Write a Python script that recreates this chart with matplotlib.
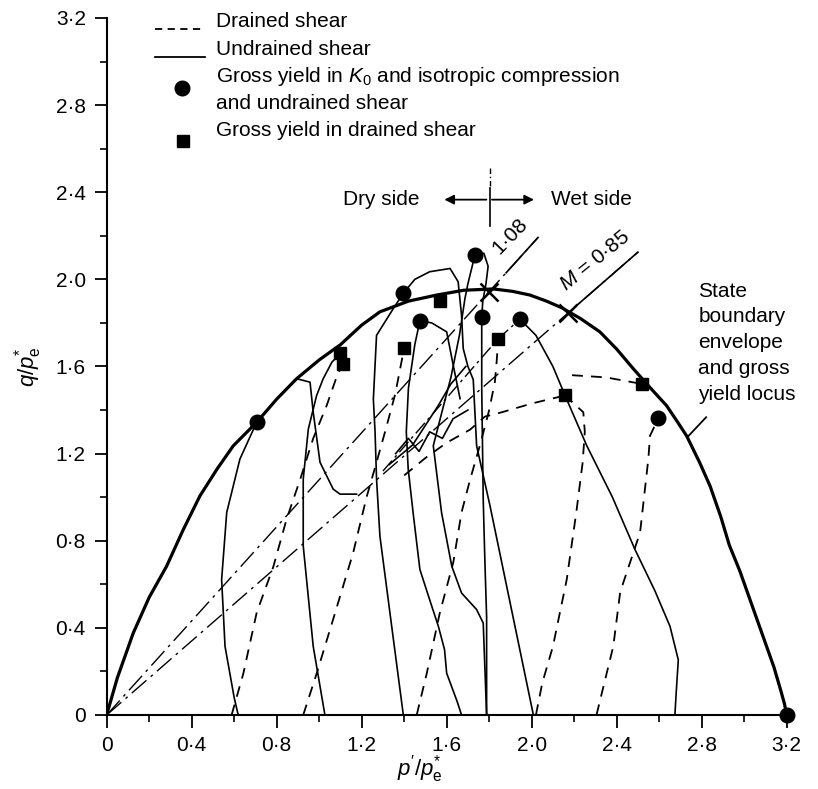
import matplotlib
matplotlib.use("Agg")
import matplotlib.pyplot as plt

plt.rcParams['font.family'] = ['Liberation Sans', 'DejaVu Sans']
plt.rcParams['mathtext.fontset'] = 'custom'
plt.rcParams['mathtext.rm'] = 'Liberation Sans'
plt.rcParams['mathtext.it'] = 'Liberation Sans:italic'

# state boundary envelope / gross yield locus (p'/pe*, q/pe*)
env_p = [0, 0.05, 0.125, 0.2, 0.282, 0.36, 0.439, 0.52, 0.596, 0.706, 0.80, 0.894,
         1.0, 1.10, 1.2, 1.286, 1.42, 1.553, 1.68, 1.82, 1.91, 1.992, 2.07, 2.141,
         2.23, 2.321, 2.40, 2.478, 2.56, 2.635, 2.69, 2.73, 2.79, 2.84, 2.89, 2.93,
         2.98, 3.02, 3.06, 3.10, 3.14, 3.17, 3.19, 3.2]
env_q = [0, 0.17, 0.376, 0.54, 0.683, 0.85, 1.006, 1.13, 1.236, 1.344, 1.45, 1.544,
         1.63, 1.70, 1.79, 1.851, 1.90, 1.928, 1.95, 1.956, 1.945, 1.928, 1.90, 1.87,
         1.82, 1.759, 1.68, 1.59, 1.50, 1.42, 1.34, 1.28, 1.16, 1.05, 0.91, 0.78,
         0.66, 0.55, 0.44, 0.33, 0.22, 0.12, 0.05, 0]

# undrained stress paths
undrained = [
    ([0.706, 0.627, 0.565, 0.541, 0.557, 0.60, 0.619],
     [1.344, 1.175, 0.93, 0.622, 0.315, 0.08, 0]),
    ([1.027, 0.972, 0.925, 0.925, 0.949, 0.988, 1.019, 1.06, 1.10],
     [0, 0.315, 0.776, 1.083, 1.313, 1.467, 1.544, 1.62, 1.66]),
    ([0.894, 0.957, 0.972, 1.004, 1.066, 1.098, 1.176],
     [1.544, 1.528, 1.39, 1.16, 1.037, 1.014, 1.014]),
    ([1.396, 1.349, 1.27, 1.255, 1.263, 1.27, 1.286, 1.333, 1.396],
     [1.936, 1.866, 1.743, 1.45, 1.30, 1.083, 0.82, 0.469, 0]),
    ([1.396, 1.45, 1.52, 1.616, 1.654, 1.67, 1.678, 1.70, 1.725, 1.741, 1.804, 2.008],
     [1.936, 2.0, 2.035, 2.05, 1.989, 1.835, 1.682, 1.60, 1.54, 1.236, 0.96, 0]),
    ([1.474, 1.45, 1.42, 1.41, 1.419, 1.442, 1.474, 1.53, 1.561, 1.59, 1.60, 1.65, 1.67],
     [1.81, 1.70, 1.50, 1.30, 1.129, 0.929, 0.668, 0.499, 0.407, 0.30, 0.192, 0.06, 0]),
    ([1.733, 1.70, 1.686, 1.66, 1.62, 1.58, 1.537, 1.576, 1.624, 1.67, 1.741, 1.772, 1.788],
     [2.112, 1.98, 1.912, 1.743, 1.55, 1.40, 1.236, 0.929, 0.683, 0.56, 0.484, 0.422, 0]),
    ([1.733, 1.775, 1.795, 1.785, 1.77, 1.765, 1.765, 1.772, 1.78, 1.788, 1.788],
     [2.112, 2.12, 2.06, 1.98, 1.90, 1.828, 1.5, 0.99, 0.7, 0.45, 0]),
    ([1.474, 1.53, 1.60, 1.631, 1.663],
     [1.81, 1.80, 1.759, 1.605, 1.452]),
    ([1.33, 1.44, 1.50, 1.56, 1.62, 1.69],
     [1.15, 1.24, 1.33, 1.42, 1.52, 1.60]),
    ([1.36, 1.42, 1.47, 1.52, 1.58, 1.63, 1.70],
     [1.20, 1.27, 1.21, 1.30, 1.27, 1.36, 1.40]),
    ([1.945, 2.02, 2.10, 2.157, 2.259, 2.38, 2.486, 2.58, 2.651, 2.69, 2.68, 2.674],
     [1.817, 1.743, 1.60, 1.467, 1.237, 1.0, 0.76, 0.57, 0.407, 0.253, 0.1, 0]),
]

# drained stress paths
drained = [
    ([0.588, 0.643, 0.706, 0.784, 0.847, 0.91, 0.972, 1.035, 1.085, 1.11],
     [0, 0.19, 0.47, 0.68, 0.90, 1.08, 1.27, 1.42, 1.56, 1.61]),
    ([0.925, 0.988, 1.066, 1.16, 1.223, 1.27, 1.31, 1.357, 1.372, 1.40],
     [0, 0.19, 0.44, 0.745, 1.0, 1.16, 1.30, 1.47, 1.544, 1.685]),
    ([1.459, 1.506, 1.568, 1.631, 1.67, 1.71, 1.76, 1.80, 1.827, 1.835, 1.843],
     [0, 0.19, 0.47, 0.70, 0.93, 1.08, 1.25, 1.40, 1.53, 1.62, 1.728]),
    ([2.02, 2.05, 2.10, 2.165, 2.21, 2.24, 2.25, 2.243, 2.157],
     [0.0, 0.147, 0.315, 0.622, 0.93, 1.16, 1.30, 1.39, 1.467]),
    ([1.40, 1.50, 1.60, 1.71, 1.78, 1.86, 2.0, 2.157],
     [1.10, 1.18, 1.25, 1.31, 1.37, 1.39, 1.43, 1.467]),
    ([2.19, 2.35, 2.518], [1.56, 1.55, 1.52]),
    ([2.305, 2.384, 2.416, 2.431, 2.51, 2.549, 2.557, 2.596],
     [0, 0.315, 0.56, 0.607, 0.837, 1.175, 1.282, 1.363]),
]

# gross yield points
circ_p = [0.706, 1.396, 1.474, 1.733, 1.765, 1.945, 2.596, 3.2]
circ_q = [1.344, 1.936, 1.81, 2.112, 1.828, 1.817, 1.363, 0]
sq_p = [1.10, 1.11, 1.40, 1.568, 1.843, 2.157, 2.518]
sq_q = [1.66, 1.61, 1.685, 1.90, 1.728, 1.467, 1.52]

# lines q = M p' through the origin
slopes = [1.08, 0.85]
line_end = [2.03, 2.50]
solid_from = [1.88, 2.21]
cross_p = [1.80, 2.17]

xticks = [0, 0.4, 0.8, 1.2, 1.6, 2.0, 2.4, 2.8, 3.2]
yticks = [0, 0.4, 0.8, 1.2, 1.6, 2.0, 2.4, 2.8, 3.2]


def dotted(v):
    if v == 0:
        return "0"
    return f"{v:.1f}".replace(".", "\u00b7")


fig = plt.figure(figsize=(8.18, 7.89), dpi=100)
ax = fig.add_axes([0.1304, 0.0938, 0.8313, 0.8834])

ax.plot(env_p, env_q, color='black', lw=2.3, solid_capstyle='round',
        solid_joinstyle='round')

for p, q in undrained:
    ax.plot(p, q, color='black', lw=1.2)
for p, q in drained:
    ax.plot(p, q, color='black', lw=1.3, linestyle=(0, (6, 4.5)))

for m, pe, ps, pc in zip(slopes, line_end, solid_from, cross_p):
    ax.plot([0, pe], [0, m * pe], color='black', lw=1.0,
            linestyle=(0, (14, 4, 2, 4)))
    ax.plot([ps, pe], [m * ps, m * pe], color='black', lw=1.2)
    ax.plot(pc, m * pc, marker='x', color='black', ms=13, mew=1.8)

# dash-dot path through the wet-side cluster
ax.plot([1.30, 1.843, 1.945], [1.12, 1.728, 1.817], color='black', lw=1.0,
        linestyle=(0, (10, 3, 2, 3)))

ax.plot(circ_p, circ_q, 'o', color='black', ms=10.5, clip_on=False)
ax.plot(sq_p, sq_q, 's', color='black', ms=8.5)

# legend
fs = 15
ax.plot([0.227, 0.462], [3.149, 3.149], color='black', lw=1.3, linestyle=(0, (4, 3)))
ax.plot([0.227, 0.462], [3.02, 3.02], color='black', lw=1.3)
ax.plot(0.353, 2.88, 'o', color='black', ms=10.5)
ax.plot(0.357, 2.634, 's', color='black', ms=8.5)
ax.text(0.514, 3.184, "Drained shear", fontsize=fs, va='center')
ax.text(0.514, 3.057, "Undrained shear", fontsize=fs, va='center')
ax.text(0.514, 2.93, r"Gross yield in $K_0$ and isotropic compression", fontsize=fs, va='center')
ax.text(0.514, 2.806, "and undrained shear", fontsize=fs, va='center')
ax.text(0.514, 2.683, "Gross yield in drained shear", fontsize=fs, va='center')

# dry / wet side marker
ax.text(1.294, 2.366, "Dry side", fontsize=fs, ha='center', va='center')
ax.text(2.282, 2.366, "Wet side", fontsize=fs, ha='center', va='center')
ax.annotate("", xy=(1.576, 2.366), xytext=(1.80, 2.366),
            arrowprops=dict(arrowstyle='-|>', color='black', lw=1.3, mutation_scale=14))
ax.annotate("", xy=(2.024, 2.366), xytext=(1.80, 2.366),
            arrowprops=dict(arrowstyle='-|>', color='black', lw=1.3, mutation_scale=14))
ax.plot([1.804, 1.804], [2.243, 2.42], color='black', lw=1.2)
ax.plot([1.804, 1.804], [2.43, 2.51], color='black', lw=1.0, linestyle=(0, (4, 2, 1, 2)))

ax.text(1.90, 2.20, "1\u00b708", fontsize=fs, rotation=46, ha='center', va='center',
        rotation_mode='anchor')
ax.text(2.30, 2.085, "$M$ = 0\u00b785", fontsize=fs, rotation=39, ha='center', va='center',
        rotation_mode='anchor')

ax.text(2.784, 1.99, "State\nboundary\nenvelope\nand gross\nyield locus", fontsize=fs,
        va='top', ha='left', linespacing=1.45)
ax.plot([2.821, 2.732], [1.367, 1.275], color='black', lw=1.3)

ax.set_xlim(0, 3.2)
ax.set_ylim(0, 3.2)
ax.spines['top'].set_visible(False)
ax.spines['right'].set_visible(False)
ax.spines['left'].set_linewidth(1.5)
ax.spines['bottom'].set_linewidth(1.5)
ax.set_xticks(xticks)
ax.set_yticks(yticks)
ax.set_xticklabels([dotted(v) for v in xticks])
ax.set_yticklabels([dotted(v) for v in yticks])
ax.set_xticks([0.2, 0.6, 1.0, 1.4, 1.8, 2.2, 2.6, 3.0], minor=True)
ax.set_yticks([0.2, 0.6, 1.0, 1.4, 1.8, 2.2, 2.6, 3.0], minor=True)
ax.tick_params(which='major', direction='out', length=9, width=1.3, labelsize=15, pad=6)
ax.tick_params(which='minor', direction='out', length=5, width=1.2)
ax.set_xlabel(r"$p'/p^{*}_{\mathrm{e}}$", fontsize=16)
ax.xaxis.set_label_coords(0.46, -0.055)
ax.set_ylabel(r"$q/p^{*}_{\mathrm{e}}$", fontsize=16, labelpad=8)

fig.savefig("out.png", dpi=100)
